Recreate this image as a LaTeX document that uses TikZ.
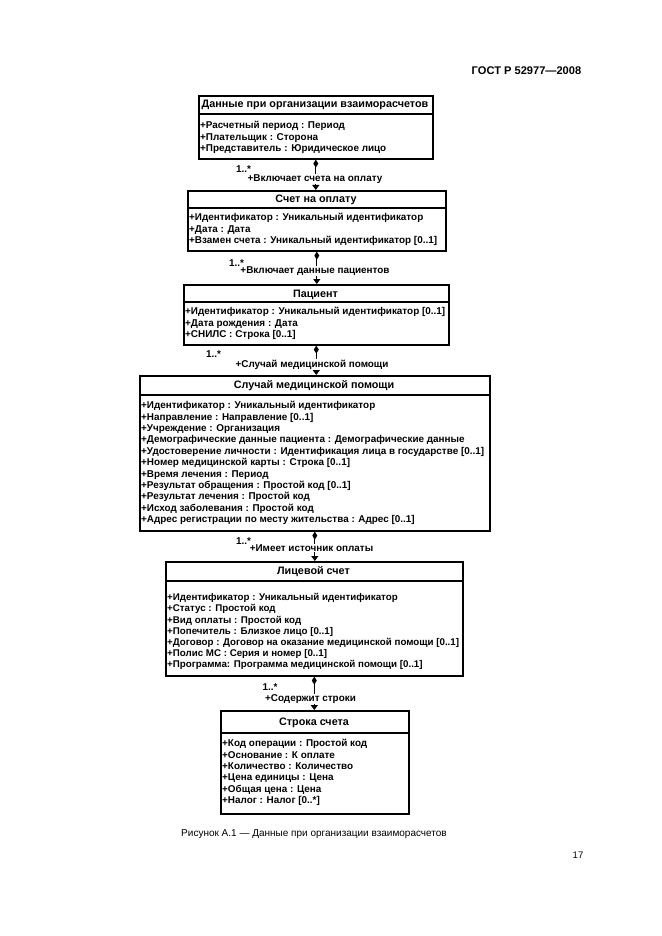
\documentclass[tikz,border=0pt]{standalone}
\usepackage{fontspec}
\setmainfont{Liberation Sans}
\usetikzlibrary{arrows.meta}
\begin{document}
\begin{tikzpicture}[x=1pt,y=-1pt,
  umlbox/.style={draw, line width=1.6pt, inner sep=0pt},
  hdr/.style={line width=1.1pt},
  ttl/.style={font=\fontsize{10.8}{11.4}\selectfont\bfseries, anchor=base, inner sep=0pt},
  attrs/.style={font=\fontsize{9.9}{11.4}\selectfont\bfseries, align=left, anchor=north west, inner sep=0pt},
  attrsb/.style={font=\fontsize{9.75}{11.2}\selectfont\bfseries, align=left, anchor=north west, inner sep=0pt},
  lbl/.style={font=\fontsize{9.9}{11.4}\selectfont\bfseries, fill=white, inner sep=0.8pt, anchor=base},
  mult/.style={font=\fontsize{9.9}{11.4}\selectfont\bfseries, inner sep=0pt, anchor=base},
  conn/.style={line width=1.2pt, {Diamond[length=8pt,width=5pt]}-{Triangle[length=5pt,width=7pt]}},
  page/.style={inner sep=0pt, anchor=base}
]
\useasboundingbox[fill=white] (0,0) rectangle (661,936);

% header / footer
\node[page, font=\fontsize{11.1}{13}\selectfont\bfseries] (gost) at (526.5,75) {ГОСТ Р 52977—2008};
\node[page, font=\fontsize{10}{12}\selectfont] (cap) at (314,836) {Рисунок А.1 — Данные при организации взаиморасчетов};
\node[page, font=\fontsize{9.5}{11}\selectfont] (pnum) at (578,858.5) {17};

% Box 1
\node[umlbox, minimum width=234pt, minimum height=63pt, anchor=north west] (b1) at (198,95) {};
\draw[hdr] (b1.west |- 0,114) -- (b1.east |- 0,114);
\node[ttl] (t1) at (315,107.5) {Данные при организации взаиморасчетов};
\node[attrs] (a1) at (200,120.5) {\strut+Расчетный период : Период\\+Плательщик : Сторона\\+Представитель : Юридическое лицо};

% Box 2
\node[umlbox, minimum width=258pt, minimum height=60pt, anchor=north west] (b2) at (187,190) {};
\draw[hdr] (b2.west |- 0,208) -- (b2.east |- 0,208);
\node[ttl] (t2) at (316,202.5) {Счет на оплату};
\node[attrs] (a2) at (189,212.5) {\strut+Идентификатор : Уникальный идентификатор\\+Дата : Дата\\+Взамен счета : Уникальный идентификатор [0..1]};

% Box 3
\node[umlbox, minimum width=265pt, minimum height=60pt, anchor=north west] (b3) at (183,284) {};
\draw[hdr] (b3.west |- 0,302) -- (b3.east |- 0,302);
\node[ttl] (t3) at (315.5,297.5) {Пациент};
\node[attrs] (a3) at (185,306.5) {\strut+Идентификатор : Уникальный идентификатор [0..1]\\+Дата рождения : Дата\\+СНИЛС : Строка [0..1]};

% Box 4
\node[umlbox, minimum width=350pt, minimum height=155pt, anchor=north west] (b4) at (139,375) {};
\draw[hdr] (b4.west |- 0,395) -- (b4.east |- 0,395);
\node[ttl] (t4) at (314,388.5) {Случай медицинской помощи};
\node[attrs] (a4) at (141,400.5) {\strut+Идентификатор : Уникальный идентификатор\\+Направление : Направление [0..1]\\+Учреждение : Организация\\+Демографические данные пациента : Демографические данные\\+Удостоверение личности : Идентификация лица в государстве [0..1]\\+Номер медицинской карты : Строка [0..1]\\+Время лечения : Период\\+Результат обращения : Простой код [0..1]\\+Результат лечения : Простой код\\+Исход заболевания : Простой код\\+Адрес регистрации по месту жительства : Адрес [0..1]};

% Box 5
\node[umlbox, minimum width=297pt, minimum height=114pt, anchor=north west] (b5) at (165,561) {};
\draw[hdr] (b5.west |- 0,581) -- (b5.east |- 0,581);
\node[ttl] (t5) at (313.5,574.5) {Лицевой счет};
\node[attrsb] (a5) at (167,592.6) {\strut+Идентификатор : Уникальный идентификатор\\+Статус : Простой код\\+Вид оплаты : Простой код\\+Попечитель : Близкое лицо [0..1]\\+Договор : Договор на оказание медицинской помощи [0..1]\\+Полис МС : Серия и номер [0..1]\\+Программа: Программа медицинской помощи [0..1]};

% Box 6
\node[umlbox, minimum width=188pt, minimum height=103pt, anchor=north west] (b6) at (220,710) {};
\draw[hdr] (b6.west |- 0,733) -- (b6.east |- 0,733);
\node[ttl] (t6) at (314,725.5) {Строка счета};
\node[attrs] (a6) at (222,738.5) {\strut+Код операции : Простой код\\+Основание : К оплате\\+Количество : Количество\\+Цена единицы : Цена\\+Общая цена : Цена\\+Налог : Налог [0..*]};

% Connectors
\draw[conn] (b1.south) -- (b1.south |- b2.north);
\node[lbl] (l1) at (315,181.5) {+Включает счета на оплату};
\node[mult] (m1) at (243.5,172) {1..*};

\draw[conn] (b2.south) -- (b2.south |- b3.north);
\node[lbl] (l2) at (315,273.5) {+Включает данные пациентов};
\node[mult] (m2) at (236.5,266) {1..*};

\draw[conn] (b3.south) -- (b3.south |- b4.north);
\node[lbl] (l3) at (312,367.5) {+Случай медицинской помощи};
\node[mult] (m3) at (213.5,357) {1..*};

\draw[conn] (b4.south) -- (b4.south |- b5.north);
\node[lbl] (l4) at (311.5,551.5) {+Имеет источник оплаты};
\node[mult] (m4) at (243.5,544) {1..*};

\draw[conn] (b5.south) -- (b5.south |- b6.north);
\node[lbl] (l5) at (310.5,701.5) {+Содержит строки};
\node[mult] (m5) at (270,690) {1..*};
\end{tikzpicture}
\end{document}
